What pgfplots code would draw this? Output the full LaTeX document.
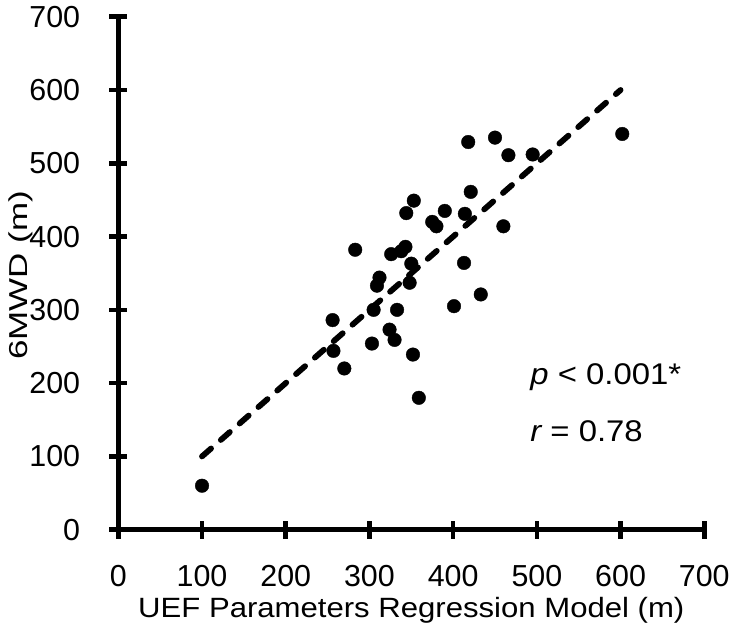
\documentclass[border=0pt]{standalone}
\usepackage{fontspec}
\setmainfont{Liberation Sans}
\usepackage{graphicx}
\usepackage{pgfplots}
\pgfplotsset{compat=1.18}

% 6MWD against model estimate
\pgfplotstableread{
x y
100 60
256 286
257 244
270 220
283 382
303 254
305 300
309 333
312 344
324 273
326 376
330 259
333 300
338 380
343 386
344 432
348 337
350 363
352 239
353 449
359 180
375 420
380 414
390 435
401 305
413 364
414 431
418 529
421 461
433 321
450 535
460 414
466 511
495 512
602 540
}\walkdata

\begin{document}
\begin{tikzpicture}
\path[use as bounding box] (-118.3bp,-100bp) rectangle (614.7bp,529.7bp);
\begin{axis}[
  at={(0,0)}, anchor=south west,
  scale only axis,
  width=586bp, height=513bp,
  xmin=0, xmax=700, ymin=0, ymax=700,
  xtick={0,100,...,700}, ytick={0,100,...,700},
  axis x line=bottom, axis y line=left,
  axis line style={-, line width=4.5bp},
  major tick style={black, line width=4.5bp},
  tick align=center, major tick length=18bp,
  /pgf/number format/assume math mode=true,
  ticklabel style={font=\fontsize{30.5}{34}\selectfont, inner sep=0pt},
  xticklabel style={anchor=base},
  xticklabel shift=48bp,
  yticklabel style={anchor=east},
  yticklabel shift=29bp,
  every axis x label/.style={at={(axis description cs:0.5,0)}, yshift=-88bp, anchor=base, inner sep=0pt},
  every axis y label/.style={at={(axis description cs:0,0.5)}, xshift=-91bp, yshift=-2bp, rotate=90, anchor=base, inner sep=0pt},
  xlabel={\fontsize{28}{32}\selectfont\scalebox{1.115}[1]{UEF Parameters Regression Model (m)}},
  ylabel={\fontsize{26}{30}\selectfont\scalebox{1.35}[1]{6MWD (m)}},
  clip=false,
]
\addplot[only marks, mark=*, mark size=6.8bp, black] table {\walkdata};
\addplot[black, line width=5.8bp, line cap=round, dash pattern=on 12bp off 13bp] coordinates {(100,100) (600,600)};
\node[anchor=base west, inner sep=0pt, font=\fontsize{30}{34}\selectfont] at (axis cs:492,198) {\scalebox{1.1}[1]{\itshape p\upshape{} < 0.001*}};
\node[anchor=base west, inner sep=0pt, font=\fontsize{30}{34}\selectfont] at (axis cs:492,120) {\scalebox{1.1}[1]{\itshape r\upshape{} = 0.78}};
\end{axis}
\end{tikzpicture}
\end{document}
